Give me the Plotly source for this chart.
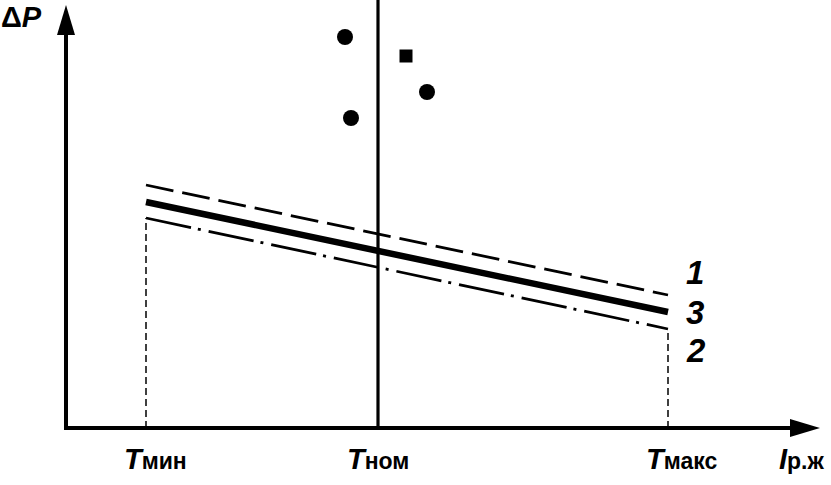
import plotly.graph_objects as go

# Schematic: pressure drop vs. flow, three temperature lines
# x/y are in drawing units, origin at the axes corner
t_names = ["мин", "ном", "макс"]
t_pos = [80, 312, 602]

line_names = ["1", "3", "2"]
line_x = [80, 602]
line_1 = [243, 133]
line_3 = [226, 116]
line_2 = [210, 99]

circle_x = [279, 285, 361]
circle_y = [391, 310, 336]
square_x = [340]
square_y = [372]

x_end = 754
y_end = 423
x_lo, x_hi = -66, 765
y_lo, y_hi = -57, 428

FONT = "Liberation Sans, Arial, sans-serif"

fig = go.Figure()

# T_nom: solid vertical through the whole chart
fig.add_trace(go.Scatter(x=[t_pos[1], t_pos[1]], y=[0, y_hi], mode="lines",
                         line=dict(color="black", width=3.2), hoverinfo="skip"))

# T_min / T_max: dotted drop lines to line 2
fig.add_trace(go.Scatter(x=[t_pos[0], t_pos[0]], y=[0, line_2[0]], mode="lines",
                         line=dict(color="black", width=1.5, dash="7px,4px"), hoverinfo="skip"))
fig.add_trace(go.Scatter(x=[t_pos[2], t_pos[2]], y=[0, line_2[1]], mode="lines",
                         line=dict(color="black", width=1.5, dash="7px,4px"), hoverinfo="skip"))

fig.add_trace(go.Scatter(x=line_x, y=line_1, mode="lines", name="1",
                         line=dict(color="black", width=2.8, dash="28px,9px")))
fig.add_trace(go.Scatter(x=line_x, y=line_3, mode="lines", name="3",
                         line=dict(color="black", width=6.5)))
fig.add_trace(go.Scatter(x=line_x, y=line_2, mode="lines", name="2",
                         line=dict(color="black", width=2.8, dash="46px,7px,3px,8px")))

fig.add_trace(go.Scatter(x=circle_x, y=circle_y, mode="markers",
                         marker=dict(symbol="circle", size=16, color="black")))
fig.add_trace(go.Scatter(x=square_x, y=square_y, mode="markers",
                         marker=dict(symbol="square", size=13, color="black")))

# axes with arrows
fig.add_shape(type="line", x0=0, y0=0, x1=0, y1=y_end - 28,
              line=dict(color="black", width=4))
fig.add_shape(type="line", x0=-2, y0=0, x1=x_end - 28, y1=0,
              line=dict(color="black", width=4))
fig.add_shape(type="path",
              path=f"M -9,{y_end - 30} L 9,{y_end - 30} L 0,{y_end} Z",
              fillcolor="black", line=dict(color="black", width=0))
fig.add_shape(type="path",
              path=f"M {x_end - 30},-9 L {x_end - 30},9 L {x_end},0 Z",
              fillcolor="black", line=dict(color="black", width=0))

# curve numbers
label_y = [line_1[1] + 23, line_3[1], line_2[1] - 21]
for name, yy in zip(line_names, label_y):
    fig.add_annotation(x=line_x[1] + 16, y=yy, text=f"<b><i>{name}</i></b>",
                       showarrow=False, xanchor="left", yanchor="middle",
                       font=dict(size=33, family=FONT, color="black"))

sub = "<span style='font-size:23px;font-weight:bold'>{}</span>"
for name, xx, dx in zip(t_names, t_pos, [9, 0, 13]):
    fig.add_annotation(x=xx, y=-31, text="<b><i>T</i></b>" + sub.format(name),
                       showarrow=False, xanchor="center", yanchor="middle",
                       xshift=dx,
                       font=dict(size=29, family=FONT, color="black"))

fig.add_annotation(x=711, y=-31, text="<b><i>I</i></b>" + sub.format("р.ж"),
                   showarrow=False, xanchor="left", yanchor="middle",
                   font=dict(size=29, family=FONT, color="black"))
fig.add_annotation(x=-65, y=411, text="<b>Δ<i>P</i></b>",
                   showarrow=False, xanchor="left", yanchor="middle",
                   xshift=-2,
                   font=dict(size=29, family=FONT, color="black"))

fig.update_xaxes(range=[x_lo, x_hi], visible=False)
fig.update_yaxes(range=[y_lo, y_hi], visible=False)
fig.update_layout(
    width=831, height=485,
    margin=dict(l=0, r=0, t=0, b=0),
    paper_bgcolor="white", plot_bgcolor="white",
    showlegend=False,
)

# drop the default 8px page margin so the chart sits at the window corner
fig.write_html("out.html", config={"displayModeBar": False},
               post_script="document.body.style.margin='0';document.body.style.overflow='hidden';")
